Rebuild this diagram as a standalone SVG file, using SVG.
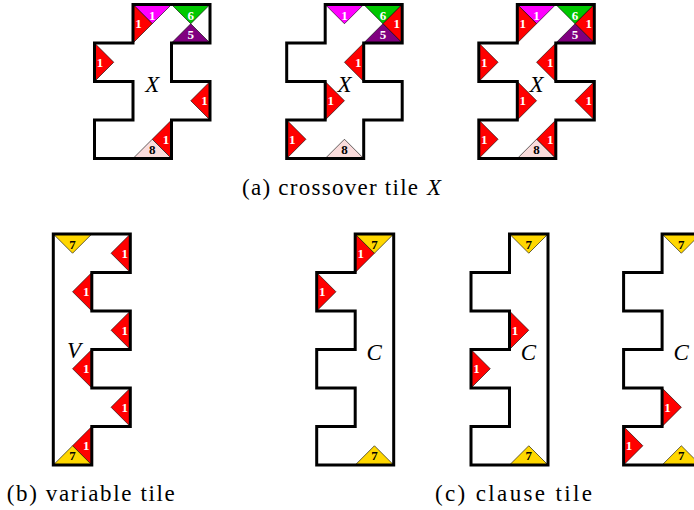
<svg xmlns="http://www.w3.org/2000/svg" width="694" height="510" viewBox="0 0 694 510">
<style>
.bg{fill:#fff}
.o{fill:none;stroke:#000;stroke-width:3;stroke-linejoin:miter}
.t{stroke:#000;stroke-width:0.6;stroke-linejoin:round}
.r{fill:#ff0000}.m{fill:#ff00ff}.g{fill:#00c800}.p{fill:#800080}.k{fill:#fadcdc}.y{fill:#ffd700}
.n{font-family:"Liberation Serif","Times New Roman",serif;font-weight:bold;font-size:13px;text-anchor:middle}
.w{fill:#fff}.b{fill:#000}
.lab{font-family:"Liberation Serif","Times New Roman",serif;font-style:italic;font-size:23px;text-anchor:middle;fill:#000}
.cap{font-family:"Liberation Serif","Times New Roman",serif;font-size:23px;fill:#000}
</style>
<rect class="bg" x="0" y="0" width="694" height="510"/>

<g id="tileX1" transform="translate(94.5,4.5)">
<path class="bg" d="M38.5,0H115.5V38.5H77V77H115.5V115.5H77V154H0V115.5H38.5V77H0V38.5H38.5Z"/>
<polygon class="t m" points="38.5,0 77,0 57.75,19.25"/>
<polygon class="t r" points="38.5,0 38.5,38.5 57.75,19.25"/>
<polygon class="t g" points="77,0 115.5,0 96.25,19.25"/>
<polygon class="t p" points="77,38.5 115.5,38.5 96.25,19.25"/>
<polygon class="t r" points="0,38.5 0,77 19.25,57.75"/>
<polygon class="t r" points="115.5,77 115.5,115.5 96.25,96.25"/>
<polygon class="t r" points="77,115.5 77,154 57.75,134.75"/>
<polygon class="t k" points="38.5,154 77,154 57.75,134.75"/>
<path class="o" d="M38.5,0H115.5V38.5H77V77H115.5V115.5H77V154H0V115.5H38.5V77H0V38.5H38.5Z"/>
<text class="n w" x="57.75" y="15.5">1</text>
<text class="n w" x="44" y="23.75">1</text>
<text class="n w" x="96.25" y="15.5">6</text>
<text class="n w" x="96.25" y="34">5</text>
<text class="n w" x="5.5" y="62.25">1</text>
<text class="n w" x="110" y="100.75">1</text>
<text class="n w" x="71.5" y="139.25">1</text>
<text class="n b" x="57.75" y="149.5">8</text>
<text class="lab" x="57.75" y="87">X</text>
</g>

<g id="tileX2" transform="translate(286.7,4.5)">
<path class="bg" d="M38.5,0H115.5V38.5H77V77H115.5V115.5H77V154H0V115.5H38.5V77H0V38.5H38.5Z"/>
<polygon class="t m" points="38.5,0 77,0 57.75,19.25"/>
<polygon class="t g" points="77,0 115.5,0 96.25,19.25"/>
<polygon class="t r" points="115.5,0 115.5,38.5 96.25,19.25"/>
<polygon class="t p" points="77,38.5 115.5,38.5 96.25,19.25"/>
<polygon class="t r" points="77,38.5 77,77 57.75,57.75"/>
<polygon class="t r" points="38.5,77 38.5,115.5 57.75,96.25"/>
<polygon class="t r" points="0,115.5 0,154 19.25,134.75"/>
<polygon class="t k" points="38.5,154 77,154 57.75,134.75"/>
<path class="o" d="M38.5,0H115.5V38.5H77V77H115.5V115.5H77V154H0V115.5H38.5V77H0V38.5H38.5Z"/>
<text class="n w" x="57.75" y="15.5">1</text>
<text class="n w" x="96.25" y="15.5">6</text>
<text class="n w" x="110" y="23.75">1</text>
<text class="n w" x="96.25" y="34">5</text>
<text class="n w" x="71.5" y="62.25">1</text>
<text class="n w" x="44" y="100.75">1</text>
<text class="n w" x="5.5" y="139.25">1</text>
<text class="n b" x="57.75" y="149.5">8</text>
<text class="lab" x="57.75" y="87">X</text>
</g>

<g id="tileX3" transform="translate(478.8,4.5)">
<path class="bg" d="M38.5,0H115.5V38.5H77V77H115.5V115.5H77V154H0V115.5H38.5V77H0V38.5H38.5Z"/>
<polygon class="t m" points="38.5,0 77,0 57.75,19.25"/>
<polygon class="t r" points="38.5,0 38.5,38.5 57.75,19.25"/>
<polygon class="t g" points="77,0 115.5,0 96.25,19.25"/>
<polygon class="t r" points="115.5,0 115.5,38.5 96.25,19.25"/>
<polygon class="t p" points="77,38.5 115.5,38.5 96.25,19.25"/>
<polygon class="t r" points="0,38.5 0,77 19.25,57.75"/>
<polygon class="t r" points="77,38.5 77,77 57.75,57.75"/>
<polygon class="t r" points="38.5,77 38.5,115.5 57.75,96.25"/>
<polygon class="t r" points="115.5,77 115.5,115.5 96.25,96.25"/>
<polygon class="t r" points="0,115.5 0,154 19.25,134.75"/>
<polygon class="t r" points="77,115.5 77,154 57.75,134.75"/>
<polygon class="t k" points="38.5,154 77,154 57.75,134.75"/>
<path class="o" d="M38.5,0H115.5V38.5H77V77H115.5V115.5H77V154H0V115.5H38.5V77H0V38.5H38.5Z"/>
<text class="n w" x="57.75" y="15.5">1</text>
<text class="n w" x="44" y="23.75">1</text>
<text class="n w" x="96.25" y="15.5">6</text>
<text class="n w" x="110" y="23.75">1</text>
<text class="n w" x="96.25" y="34">5</text>
<text class="n w" x="5.5" y="62.25">1</text>
<text class="n w" x="71.5" y="62.25">1</text>
<text class="n w" x="44" y="100.75">1</text>
<text class="n w" x="110" y="100.75">1</text>
<text class="n w" x="5.5" y="139.25">1</text>
<text class="n w" x="71.5" y="139.25">1</text>
<text class="n b" x="57.75" y="149.5">8</text>
<text class="lab" x="57.75" y="87">X</text>
</g>

<text id="capA" class="cap" x="242" y="194.5" textLength="176" lengthAdjust="spacing">(a) crossover tile</text>
<text class="cap" x="427" y="194.5" font-style="italic">X</text>

<g id="tileV" transform="translate(53.3,234)">
<path class="bg" d="M0,0H77V38.5H38.5V77H77V115.5H38.5V154H77V192.5H38.5V231H0Z"/>
<polygon class="t y" points="0,0 38.5,0 19.25,19.25"/>
<polygon class="t r" points="77,0 77,38.5 57.75,19.25"/>
<polygon class="t r" points="38.5,38.5 38.5,77 19.25,57.75"/>
<polygon class="t r" points="77,77 77,115.5 57.75,96.25"/>
<polygon class="t r" points="38.5,115.5 38.5,154 19.25,134.75"/>
<polygon class="t r" points="77,154 77,192.5 57.75,173.25"/>
<polygon class="t r" points="38.5,192.5 38.5,231 19.25,211.75"/>
<polygon class="t y" points="0,231 38.5,231 19.25,211.75"/>
<path class="o" d="M0,0H77V38.5H38.5V77H77V115.5H38.5V154H77V192.5H38.5V231H0Z"/>
<text class="n b" x="19.25" y="15">7</text>
<text class="n w" x="71.5" y="23.75">1</text>
<text class="n w" x="33" y="62.25">1</text>
<text class="n w" x="71.5" y="100.75">1</text>
<text class="n w" x="33" y="139.25">1</text>
<text class="n w" x="71.5" y="177.75">1</text>
<text class="n w" x="33" y="216.25">1</text>
<text class="n b" x="19.25" y="226">7</text>
<text class="lab" x="20.7" y="124">V</text>
</g>

<g id="tileC1" transform="translate(316.7,234)">
<path class="bg" d="M38.5,0H77V231H0V192.5H38.5V154H0V115.5H38.5V77H0V38.5H38.5Z"/>
<polygon class="t r" points="38.5,0 38.5,38.5 57.75,19.25"/>
<polygon class="t y" points="38.5,0 77,0 57.75,19.25"/>
<polygon class="t r" points="0,38.5 0,77 19.25,57.75"/>
<polygon class="t y" points="38.5,231 77,231 57.75,211.75"/>
<path class="o" d="M38.5,0H77V231H0V192.5H38.5V154H0V115.5H38.5V77H0V38.5H38.5Z"/>
<text class="n w" x="44" y="23.75">1</text>
<text class="n b" x="57.75" y="15">7</text>
<text class="n w" x="5.5" y="62.25">1</text>
<text class="n b" x="57.75" y="226">7</text>
<text class="lab" x="57.5" y="126">C</text>
</g>

<g id="tileC2" transform="translate(471,234)">
<path class="bg" d="M38.5,0H77V231H0V192.5H38.5V154H0V115.5H38.5V77H0V38.5H38.5Z"/>
<polygon class="t y" points="38.5,0 77,0 57.75,19.25"/>
<polygon class="t r" points="38.5,77 38.5,115.5 57.75,96.25"/>
<polygon class="t r" points="0,115.5 0,154 19.25,134.75"/>
<polygon class="t y" points="38.5,231 77,231 57.75,211.75"/>
<path class="o" d="M38.5,0H77V231H0V192.5H38.5V154H0V115.5H38.5V77H0V38.5H38.5Z"/>
<text class="n b" x="57.75" y="15">7</text>
<text class="n w" x="44" y="100.75">1</text>
<text class="n w" x="5.5" y="139.25">1</text>
<text class="n b" x="57.75" y="226">7</text>
<text class="lab" x="57.5" y="126">C</text>
</g>

<g id="tileC3" transform="translate(623.6,234)">
<path class="bg" d="M38.5,0H77V231H0V192.5H38.5V154H0V115.5H38.5V77H0V38.5H38.5Z"/>
<polygon class="t y" points="38.5,0 77,0 57.75,19.25"/>
<polygon class="t r" points="38.5,154 38.5,192.5 57.75,173.25"/>
<polygon class="t r" points="0,192.5 0,231 19.25,211.75"/>
<polygon class="t y" points="38.5,231 77,231 57.75,211.75"/>
<path class="o" d="M38.5,0H77V231H0V192.5H38.5V154H0V115.5H38.5V77H0V38.5H38.5Z"/>
<text class="n b" x="57.75" y="15">7</text>
<text class="n w" x="44" y="177.75">1</text>
<text class="n w" x="5.5" y="216.25">1</text>
<text class="n b" x="57.75" y="226">7</text>
<text class="lab" x="57.5" y="126">C</text>
</g>

<text id="capB" class="cap" x="6.7" y="501" textLength="168" lengthAdjust="spacing">(b) variable tile</text>
<text id="capC" class="cap" x="435" y="501" textLength="157" lengthAdjust="spacing">(c) clause tile</text>
</svg>
